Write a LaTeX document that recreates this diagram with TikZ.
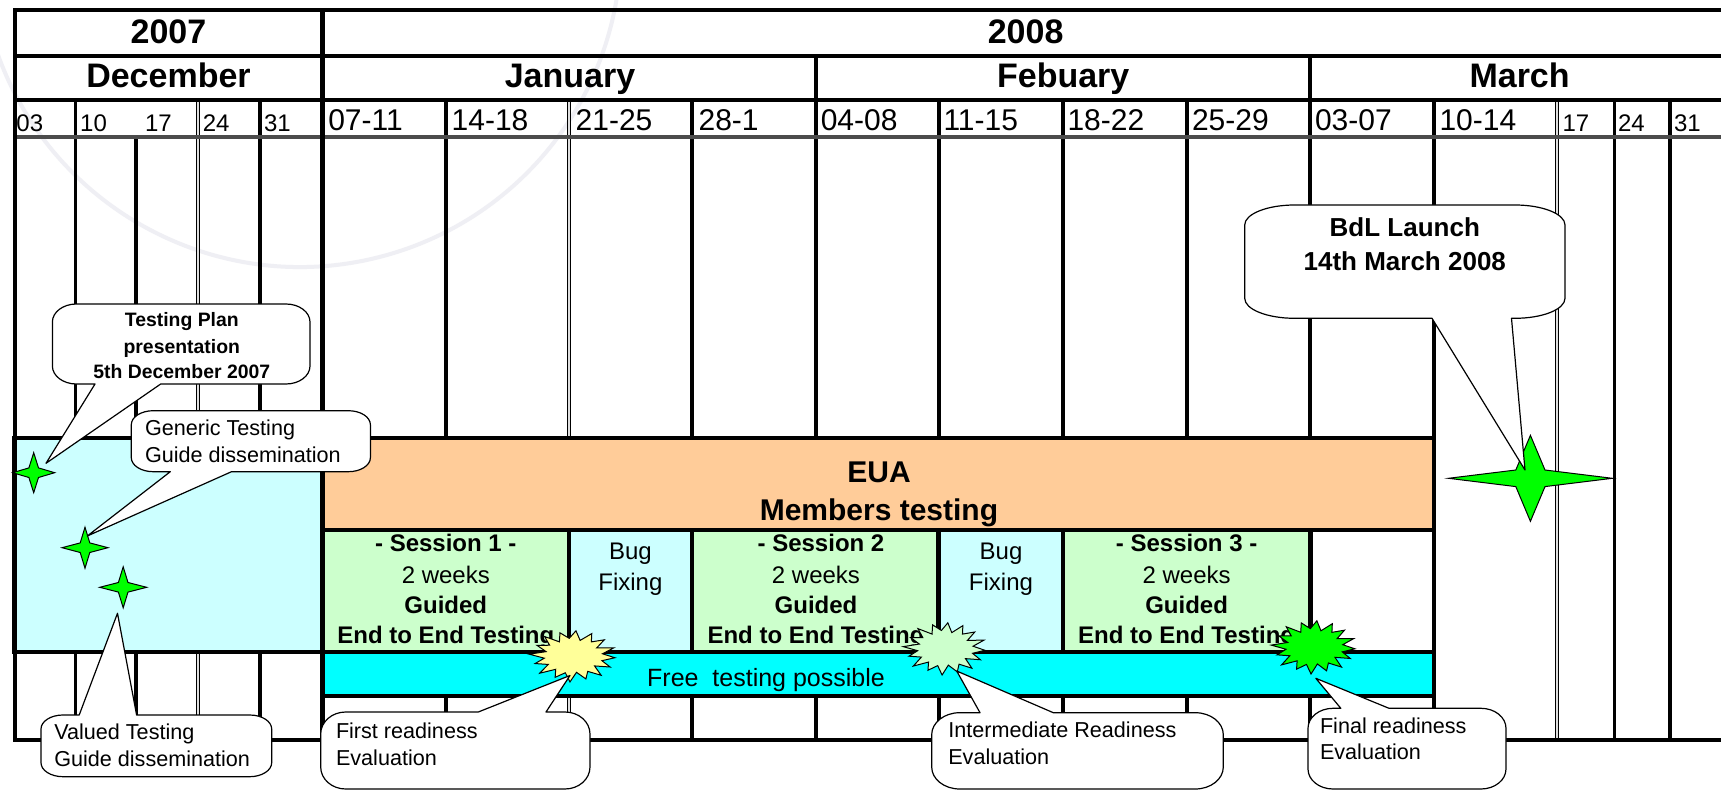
\documentclass[tikz,border=0pt]{standalone}
\usepackage{fontspec}
\setmainfont{Liberation Sans}
\definecolor{lcyan}{HTML}{CCFFFF}
\definecolor{orng}{HTML}{FFCC99}
\definecolor{lgreen}{HTML}{CCFFCC}
\definecolor{aquabar}{HTML}{00FFFF}
\definecolor{gstar}{HTML}{00FF00}
\definecolor{lyel}{HTML}{FFFF99}
\definecolor{wmark}{RGB}{239,239,244}

% callout with wedge on the bottom edge: x1,y1,x2,y2,rx,ry,b1,b2,tip
\newcommand{\callbot}[9]{%
  \filldraw[callout] ({#1+#5},#2) -- ({#3-#5},#2)
    arc[start angle=270,end angle=360,x radius=#5,y radius=#6]
    -- (#3,{#4-#6})
    arc[start angle=0,end angle=90,x radius=#5,y radius=#6]
    -- (#8,#4) -- (#9) -- (#7,#4) -- ({#1+#5},#4)
    arc[start angle=90,end angle=180,x radius=#5,y radius=#6]
    -- (#1,{#2+#6})
    arc[start angle=180,end angle=270,x radius=#5,y radius=#6] -- cycle;}
% callout with wedge on the top edge
\newcommand{\calltop}[9]{%
  \filldraw[callout] ({#1+#5},#2) -- (#7,#2) -- (#9) -- (#8,#2) -- ({#3-#5},#2)
    arc[start angle=270,end angle=360,x radius=#5,y radius=#6]
    -- (#3,{#4-#6})
    arc[start angle=0,end angle=90,x radius=#5,y radius=#6]
    -- ({#1+#5},#4)
    arc[start angle=90,end angle=180,x radius=#5,y radius=#6]
    -- (#1,{#2+#6})
    arc[start angle=180,end angle=270,x radius=#5,y radius=#6] -- cycle;}
% four-pointed star: centre, a, b, c, d
\newcommand{\fourstar}[5]{%
  \filldraw[starsty,shift={(#1)}] (#2,0) -- (#4,#5) -- (0,#3) -- (-#4,#5)
    -- (-#2,0) -- (-#4,-#5) -- (0,-#3) -- (#4,-#5) -- cycle;}
% explosion burst: centre, rx, ry, colour
\newcommand{\myburst}[4]{%
  \filldraw[draw=black,line width=0.5pt,fill=#4,shift={(#1)}]
    plot[samples at={0,...,31},variable=\k]
    ({\k*11.25+4}:{#2*(1-0.32*mod(\k,2))*(1+0.05*sin(\k*97))} and {#3*(1-0.32*mod(\k,2))*(1+0.05*sin(\k*97))}) -- cycle;}

\begin{document}
\begin{tikzpicture}[x=0.5pt,y=-0.5pt,
  grid/.style={line width=1.8pt},
  gridd/.style={line width=0.7pt,double=gray!25,double distance=0.9pt},
  thickline/.style={line width=2.5pt},
  wkline/.style={line width=2.2pt,draw=black!70},
  box/.style={draw=black,line width=2.3pt},
  callout/.style={draw=black,fill=white,line width=0.6pt,line join=round},
  starsty/.style={draw=black,fill=gstar,line width=0.5pt,line join=miter},
  txt/.style={inner sep=0pt,outer sep=0pt},
  hdr/.style={txt,anchor=base,font=\fontsize{17}{20}\selectfont\bfseries},
  wk/.style={txt,anchor=base west,font=\fontsize{15}{18}\selectfont},
  wks/.style={txt,anchor=base west,font=\fontsize{12}{14}\selectfont},
  eua/.style={txt,anchor=base,font=\fontsize{15}{18}\selectfont\bfseries},
  sb/.style={txt,anchor=base,font=\fontsize{12}{14}\selectfont\bfseries},
  sr/.style={txt,anchor=base,font=\fontsize{12}{14}\selectfont},
  freet/.style={txt,anchor=base,font=\fontsize{12.5}{15}\selectfont},
  cr/.style={txt,anchor=base west,font=\fontsize{10.8}{13}\selectfont},
  cb/.style={txt,anchor=base,font=\fontsize{9.7}{12}\selectfont\bfseries},
  bdl/.style={txt,anchor=base,font=\fontsize{13}{16}\selectfont\bfseries}]
\useasboundingbox (0,0) rectangle (1721,792);
\fill[white] (0,0) rectangle (1721,792);

% faint watermark arc
\draw[wmark,line width=2pt] (300,-54) ++(165:321) arc[start angle=165,end angle=5,radius=321];

% ---- grid ----
\foreach \x in {75.4,260.2,445.8,691.8,938.7,1063,1186.7,1434,1614.3,1670}
  \draw[grid] (\x,100) -- (\x,740);
\foreach \x in {197.8,569,1556.8}
  \draw[gridd] (\x,100) -- (\x,740);
\draw[grid] (136,137) -- (136,740);
\draw[grid] (816.2,56) -- (816.2,740);
\draw[grid] (1310.2,56) -- (1310.2,740);
\draw[grid] (14.5,56) -- (1721,56);
\draw[grid] (14.5,100) -- (1721,100);
\draw[wkline] (14.5,137) -- (1721,137);
\draw[grid,line width=2pt] (1721,10) -- (14.5,10) -- (14.5,740) -- (1721,740);
\draw[thickline] (322.6,10) -- (322.6,740);

% ---- activity boxes ----
\path[box,fill=lcyan] (14.5,438) rectangle (322.6,652);
\path[box,fill=orng] (322.6,438) rectangle (1434,530);
\path[box,fill=lgreen] (322.6,530) rectangle (569,652);
\path[box,fill=lcyan] (569,530) rectangle (691.8,652);
\path[box,fill=lgreen] (691.8,530) rectangle (938.7,652);
\path[box,fill=lcyan] (938.7,530) rectangle (1063,652);
\path[box,fill=lgreen] (1063,530) rectangle (1310.2,652);
\path[box,fill=white] (1310.2,530) rectangle (1434,652);
\path[box,fill=aquabar] (322.6,652) rectangle (1434,696);

% ---- headers ----
\node[hdr] (y07) at (168.5,43.5) {2007};
\node[hdr] (y08) at (1025.6,43.5) {2008};
\node[hdr] (mdec) at (168.5,87.5) {December};
\node[hdr] (mjan) at (570,87.5) {January};
\node[hdr] (mfeb) at (1063.2,87.5) {Febuary};
\node[hdr] (mmar) at (1519.6,87.5) {March};
\foreach \x/\t [count=\i] in {328.3/07-11,451.7/14-18,575.7/21-25,698.6/28-1,820.8/04-08,943.5/11-15,1067.5/18-22,1192/25-29,1315/03-07,1439.5/10-14}
  \node[wk] (wk\i) at (\x,131) {\t};
\foreach \x/\t [count=\i] in {16.5/03,80.2/10,145/17,202.8/24,264/31,1562.5/17,1618/24,1674/31}
  \node[wks] (ws\i) at (\x,131.5) {\t};

% ---- box texts ----
\node[eua] (eua1) at (879,482.7) {EUA};
\node[eua] (eua2) at (879,520) {Members testing};
\node[sb] (s1a) at (445.8,551.7) {- Session 1 -};
\node[sr] (s1b) at (445.8,583.3) {2 weeks};
\node[sb] (s1c) at (445.8,613.3) {Guided};
\node[sb] (s1d) at (445.8,643.3) {End to End Testing};
\node[sr] (bf1a) at (630.4,559.5) {Bug};
\node[sr] (bf1b) at (630.4,590) {Fixing};
\node[sb] (s2a) at (821,551.7) {- Session 2};
\node[sr] (s2b) at (816,583.3) {2 weeks};
\node[sb] (s2c) at (816,613.3) {Guided};
\node[sb] (s2d) at (816,643.3) {End to End Testing};
\node[sr] (bf2a) at (1001,559.5) {Bug};
\node[sr] (bf2b) at (1001,590) {Fixing};
\node[sb] (s3a) at (1186.6,551.7) {- Session 3 -};
\node[sr] (s3b) at (1186.6,583.3) {2 weeks};
\node[sb] (s3c) at (1186.6,613.3) {Guided};
\node[sb] (s3d) at (1186.6,643.3) {End to End Testing};
\node[freet] (free) at (766,686.7) {Free~~testing possible};

% ---- stars and bursts ----
\coordinate (st1) at (33.7,472.7);
\coordinate (st2) at (85,547.7);
\coordinate (st3) at (123.2,587.3);
\coordinate (st4) at (1530.4,478.3);
\fourstar{st1}{21}{20}{4.8}{4.8}
\fourstar{st2}{23}{20.5}{4.8}{4.8}
\fourstar{st3}{23.5}{20.5}{4.8}{4.8}
\fourstar{st4}{82}{43}{14.6}{8.3}
\coordinate (bu1) at (573,656);
\coordinate (bu2) at (945,648.5);
\coordinate (bu3) at (1314,647);
\myburst{bu1}{42}{25}{lyel}
\myburst{bu2}{40}{25.5}{lgreen}
\myburst{bu3}{41}{26}{gstar}

% ---- callouts ----
\coordinate (tpTip) at (46,463.3);
\coordinate (gtTip) at (87.3,536);
\coordinate (vtTip) at (117.5,613.3);
\coordinate (frTip) at (570,675.5);
\coordinate (irTip) at (956.7,671);
\coordinate (fnTip) at (1315.8,678.3);
\coordinate (bdTip) at (1525,470);
\callbot{52.4}{304}{310}{384}{24}{18}{95}{160.7}{tpTip}
\callbot{131.3}{410.7}{370.4}{471.7}{22}{14}{170.3}{231.5}{gtTip}
\calltop{41}{715}{271.7}{776.7}{22}{14}{79.2}{136.6}{vtTip}
\calltop{320.7}{712}{590}{789}{25}{22}{478.3}{546}{frTip}
\calltop{931.7}{712.7}{1223.3}{789}{28}{22}{980}{1053.3}{irTip}
\calltop{1308}{708.3}{1506}{789}{25}{20}{1340.8}{1389}{fnTip}
\callbot{1244.7}{205}{1565}{318.3}{50}{20}{1432}{1511.5}{bdTip}

\node[cb] (tp1) at (181.8,327) {Testing Plan};
\node[cb] (tp2) at (181.8,353.3) {presentation};
\node[cb] (tp3) at (181.8,378.5) {5th December 2007};
\node[cr] (gt1) at (145,435.5) {Generic Testing};
\node[cr] (gt2) at (145,462) {Guide dissemination};
\node[cr] (vt1) at (54.3,739.3) {Valued Testing};
\node[cr] (vt2) at (54.3,766) {Guide dissemination};
\node[cr] (fr1) at (336,738.3) {First readiness};
\node[cr] (fr2) at (336,765) {Evaluation};
\node[cr] (ir1) at (948.3,737) {Intermediate Readiness};
\node[cr] (ir2) at (948.3,764) {Evaluation};
\node[cr] (fn1) at (1320,733.3) {Final readiness};
\node[cr] (fn2) at (1320,759.3) {Evaluation};
\node[bdl] (bd1) at (1404.8,236.7) {BdL Launch};
\node[bdl] (bd2) at (1404.8,270.7) {14th March 2008};
\end{tikzpicture}
\end{document}
